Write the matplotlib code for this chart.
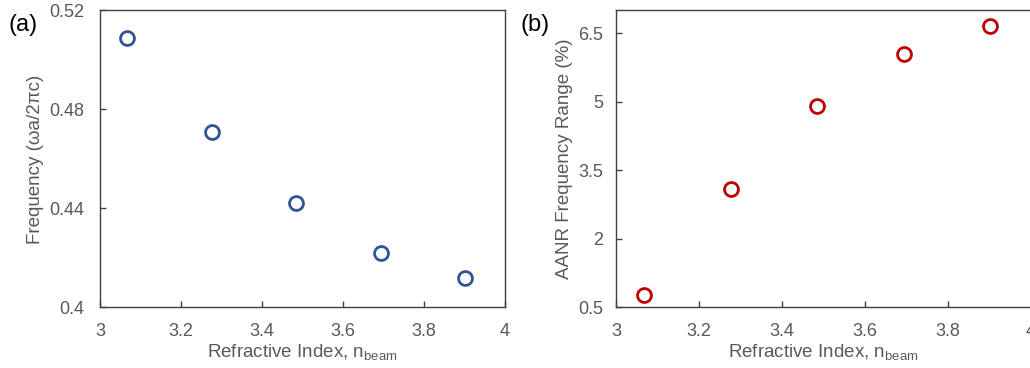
import matplotlib
matplotlib.use("Agg")
import matplotlib.pyplot as plt

n_beam = [3.067, 3.277, 3.485, 3.693, 3.901]
frequency = [0.509, 0.471, 0.442, 0.422, 0.412]
aanr_range = [0.76, 3.08, 4.91, 6.05, 6.65]

plt.rcParams['font.family'] = ['Liberation Sans', 'DejaVu Sans']
plt.rcParams['mathtext.fontset'] = 'custom'
plt.rcParams['mathtext.rm'] = 'Liberation Sans'

gray = '#595959'
fig = plt.figure(figsize=(10.3, 3.68), dpi=100)
ax1 = fig.add_axes([0.0971, 0.165, 0.3932, 0.8065])
ax2 = fig.add_axes([0.598, 0.165, 0.403, 0.8065])

def style(ax):
    for s in ax.spines.values():
        s.set_color('#404040')
        s.set_linewidth(1.0)
    ax.tick_params(direction='in', length=4, width=1, colors='#404040',
                   labelcolor=gray, labelsize=13, pad=11)
    ax.set_xlim(3, 4)
    ax.set_xticks([3, 3.2, 3.4, 3.6, 3.8, 4])
    ax.set_xticklabels(['3', '3.2', '3.4', '3.6', '3.8', '4'])
    ax.set_xlabel('Refractive Index, n$_\\mathregular{beam}$', color=gray, fontsize=13.5, labelpad=2)

style(ax1)
ax1.plot(n_beam, frequency, 'o', ms=10, mfc='none', mec='#2F5597', mew=2)
ax1.set_ylim(0.4, 0.52)
ax1.set_yticks([0.4, 0.44, 0.48, 0.52])
ax1.set_yticklabels(['0.4', '0.44', '0.48', '0.52'])
ax1.set_ylabel('Frequency (ωa/2πc)', color=gray, fontsize=13.5, labelpad=4)

style(ax2)
ax2.plot(n_beam, aanr_range, 'o', ms=10, mfc='none', mec='#C00000', mew=2)
ax2.set_ylim(0.5, 7.0)
ax2.set_yticks([0.5, 2, 3.5, 5, 6.5])
ax2.set_yticklabels(['0.5', '2', '3.5', '5', '6.5'])
ax2.tick_params(axis='y', pad=9)
ax2.set_ylabel('AANR Frequency Range (%)', color=gray, fontsize=13.5, labelpad=4)

fig.text(0.008, 0.915, '(a)', fontsize=17, color='black')
fig.text(0.505, 0.915, '(b)', fontsize=17, color='black')

fig.savefig('out.png', dpi=100)
